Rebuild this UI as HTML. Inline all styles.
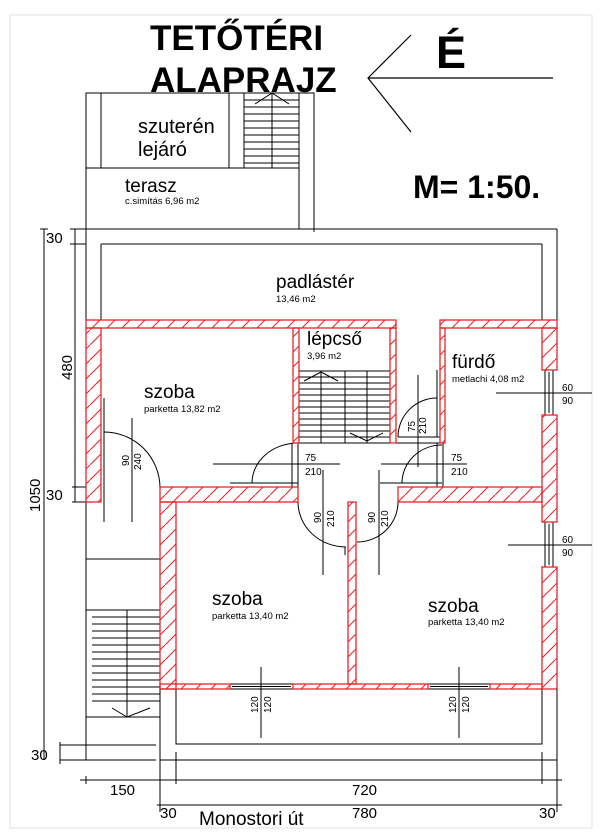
<!DOCTYPE html>
<html><head><meta charset="utf-8"><style>
html,body{margin:0;padding:0;background:#fff;}
svg{display:block;font-family:"Liberation Sans",Arial,sans-serif;}
</style></head><body>
<svg width="600" height="840" viewBox="0 0 600 840" xmlns="http://www.w3.org/2000/svg">
<defs>
<pattern id="h" patternUnits="userSpaceOnUse" width="15" height="15">
<line x1="0" y1="15" x2="15" y2="0" stroke="#e8262a" stroke-width="1.1"/>
</pattern>
</defs>
<rect x="10" y="15" width="582" height="813" fill="none" stroke="#e2e2e2" stroke-width="1"/>

<!-- titles -->
<text x="150" y="50" font-size="35" font-weight="bold">TETŐTÉRI</text>
<text x="150" y="92" font-size="35" font-weight="bold">ALAPRAJZ</text>
<text x="436" y="68" font-size="45" font-weight="bold">É</text>
<polyline points="411,35 368,78 411,132" fill="none" stroke="#000" stroke-width="1.2"/>
<line x1="368" y1="78" x2="553" y2="78" stroke="#000" stroke-width="1.2"/>
<text x="413" y="198" font-size="32" font-weight="bold">M= 1:50.</text>

<g stroke="#000" stroke-width="1" fill="none">
<!-- suteren/terasz -->
<polyline points="86,232 86,93 314,93 314,232"/>
<line x1="101" y1="93" x2="101" y2="168"/>
<line x1="229" y1="93" x2="229" y2="168"/>
<line x1="244" y1="93" x2="244" y2="168"/>
<line x1="299" y1="93" x2="299" y2="229"/>
<line x1="86" y1="168" x2="299" y2="168"/>
<line x1="272" y1="93" x2="272" y2="168"/>
<line x1="244" y1="100" x2="299" y2="100"/><line x1="244" y1="107" x2="299" y2="107"/>
<line x1="244" y1="114" x2="299" y2="114"/><line x1="244" y1="121" x2="299" y2="121"/>
<line x1="244" y1="128" x2="299" y2="128"/><line x1="244" y1="135" x2="299" y2="135"/>
<line x1="244" y1="142" x2="299" y2="142"/><line x1="244" y1="149" x2="299" y2="149"/>
<line x1="244" y1="156" x2="299" y2="156"/><line x1="244" y1="163" x2="299" y2="163"/>
<polyline points="255,104 272,93 289,104"/>
<!-- building outline -->
<line x1="86" y1="229" x2="557" y2="229"/>
<line x1="557" y1="229" x2="557" y2="320"/>
<line x1="101" y1="244" x2="542" y2="244"/>
<line x1="542" y1="244" x2="542" y2="320"/>
<line x1="86" y1="229" x2="86" y2="320"/>
<line x1="101" y1="244" x2="101" y2="320"/>
<!-- left dims -->
<line x1="75" y1="229" x2="75" y2="502"/>
<line x1="44" y1="229" x2="44" y2="760"/>
<line x1="70" y1="229" x2="86" y2="229"/>
<line x1="70" y1="244" x2="86" y2="244"/>
<line x1="40" y1="229" x2="48" y2="229"/>
<line x1="72" y1="487" x2="86" y2="487"/>
<line x1="72" y1="502" x2="86" y2="502"/>
<line x1="60" y1="745" x2="156" y2="745"/>
<line x1="60" y1="760" x2="156" y2="760"/>
<line x1="60" y1="742" x2="60" y2="764"/>
<!-- left lower area -->
<line x1="86" y1="502" x2="86" y2="760"/>
<line x1="160" y1="502" x2="160" y2="812"/>
<line x1="86" y1="559" x2="160" y2="559"/>
<rect x="86" y="610" width="74" height="107"/>
<line x1="127" y1="610" x2="127" y2="717"/>
<g>
<line x1="92" y1="617" x2="160" y2="617"/><line x1="92" y1="624" x2="160" y2="624"/>
<line x1="92" y1="631" x2="160" y2="631"/><line x1="92" y1="638" x2="160" y2="638"/>
<line x1="92" y1="645" x2="160" y2="645"/><line x1="92" y1="652" x2="160" y2="652"/>
<line x1="92" y1="659" x2="160" y2="659"/><line x1="92" y1="666" x2="160" y2="666"/>
<line x1="92" y1="673" x2="160" y2="673"/><line x1="92" y1="680" x2="160" y2="680"/>
<line x1="92" y1="687" x2="160" y2="687"/><line x1="92" y1="694" x2="160" y2="694"/>
<line x1="92" y1="701" x2="160" y2="701"/>
</g>
<polyline points="112,708 127,717 150,708"/>
<!-- balcony -->
<polyline points="176,689 176,744 542,744 542,689"/>
<line x1="557" y1="689" x2="557" y2="812"/>
<!-- bottom dims -->
<line x1="160" y1="760" x2="557" y2="760"/>
<line x1="176" y1="752" x2="176" y2="784"/>
<line x1="542" y1="752" x2="542" y2="784"/>
<line x1="80" y1="780" x2="562" y2="780"/>
<line x1="86" y1="776" x2="86" y2="784"/>
<line x1="157" y1="805" x2="562" y2="805"/>
<!-- stairs lepcso -->
<line x1="299" y1="371" x2="390" y2="371"/>
<line x1="299" y1="377" x2="390" y2="377"/><line x1="299" y1="383" x2="390" y2="383"/>
<line x1="299" y1="389" x2="390" y2="389"/><line x1="299" y1="395" x2="390" y2="395"/>
<line x1="299" y1="401" x2="390" y2="401"/><line x1="299" y1="407" x2="390" y2="407"/>
<line x1="299" y1="413" x2="390" y2="413"/><line x1="299" y1="419" x2="390" y2="419"/>
<line x1="299" y1="425" x2="390" y2="425"/><line x1="299" y1="431" x2="390" y2="431"/>
<line x1="299" y1="437" x2="390" y2="437"/>
<line x1="321" y1="371" x2="321" y2="443"/><line x1="345" y1="371" x2="345" y2="443"/>
<line x1="367" y1="371" x2="367" y2="443"/>
<polyline points="304,381 321,372 338,381"/>
<polyline points="350,433 367,441 383,433"/>
<line x1="293" y1="443" x2="445" y2="443"/>
<!-- hallway frames -->
<line x1="292" y1="443" x2="292" y2="487"/><line x1="298" y1="443" x2="298" y2="487"/>
<line x1="437" y1="443" x2="437" y2="487"/><line x1="443" y1="443" x2="443" y2="487"/>
<!-- doors -->
<path d="M104,432 A56,56 0 0 1 160,488"/>
<line x1="104" y1="398" x2="104" y2="522"/>
<line x1="132" y1="418" x2="132" y2="522"/>
<path d="M298,443 A46,40 0 0 0 252,483"/>
<line x1="230" y1="483" x2="298" y2="483"/>
<line x1="213" y1="464" x2="340" y2="464"/>
<line x1="323" y1="470" x2="323" y2="575"/>
<path d="M442,445 A40,38 0 0 0 402,483"/>
<line x1="381" y1="464" x2="467" y2="464"/>
<line x1="380" y1="483" x2="442" y2="483"/>
<path d="M437,398 A39,39 0 0 0 398,437"/>
<line x1="398" y1="437" x2="440" y2="437"/>
<line x1="418" y1="375" x2="418" y2="467"/>
<line x1="437" y1="370" x2="437" y2="437"/>
<path d="M298,502 A48,45 0 0 0 346,547"/>
<line x1="345" y1="547" x2="345" y2="555"/>
<path d="M398,502 A41,40 0 0 1 357,542"/>
<line x1="379" y1="470" x2="379" y2="575"/>
<line x1="298" y1="487" x2="298" y2="502"/>
<!-- window dims -->
<line x1="496" y1="393" x2="592" y2="393"/>
<line x1="508" y1="545" x2="592" y2="545"/>
<line x1="261" y1="667" x2="261" y2="738"/>
<line x1="459" y1="667" x2="459" y2="738"/>
<!-- windows -->
<rect x="545" y="370" width="8" height="45"/><line x1="549" y1="372" x2="549" y2="413"/>
<rect x="545" y="522" width="8" height="45"/><line x1="549" y1="524" x2="549" y2="565"/>
<rect x="230" y="684" width="63" height="5"/><line x1="232" y1="686.5" x2="291" y2="686.5"/>
<rect x="428" y="684" width="62" height="5"/><line x1="430" y1="686.5" x2="488" y2="686.5"/>
</g>

<!-- red walls -->
<g fill="url(#h)" stroke="#e8262a" stroke-width="1.3">
<rect x="86" y="320" width="310" height="8"/>
<rect x="440" y="320" width="117" height="8"/>
<rect x="86" y="328" width="15" height="174"/>
<rect x="293" y="328" width="6" height="115"/>
<rect x="390" y="328" width="6" height="115"/>
<rect x="440" y="328" width="5" height="115"/>
<rect x="542" y="328" width="15" height="42"/>
<rect x="542" y="415" width="15" height="107"/>
<rect x="542" y="567" width="15" height="122"/>
<rect x="160" y="487" width="138" height="15"/>
<rect x="398" y="487" width="144" height="15"/>
<rect x="160" y="502" width="16" height="187"/>
<rect x="348" y="502" width="8" height="182"/>
<rect x="160" y="684" width="70" height="5"/>
<rect x="293" y="684" width="135" height="5"/>
<rect x="490" y="684" width="52" height="5"/>
</g>

<!-- labels -->
<g fill="#000">
<text x="138" y="133" font-size="20">szuterén</text>
<text x="138" y="156" font-size="20">lejáró</text>
<text x="125" y="192" font-size="19">terasz</text>
<text x="125" y="204" font-size="9.5">c.simítás 6,96 m2</text>
<text x="276" y="288" font-size="19">padlástér</text>
<text x="276" y="302" font-size="9.5">13,46 m2</text>
<text x="307" y="345" font-size="19">lépcső</text>
<text x="307" y="359" font-size="9.5">3,96 m2</text>
<text x="452" y="368" font-size="19">fürdő</text>
<text x="452" y="382" font-size="9.5">metlachi 4,08 m2</text>
<text x="144" y="398" font-size="19">szoba</text>
<text x="144" y="412" font-size="9.5">parketta 13,82 m2</text>
<text x="212" y="605" font-size="19">szoba</text>
<text x="212" y="619" font-size="9.5">parketta 13,40 m2</text>
<text x="428" y="612" font-size="19">szoba</text>
<text x="428" y="625" font-size="9.5">parketta 13,40 m2</text>
<g font-size="10">
<text x="305" y="461">75</text><text x="305" y="475">210</text>
<text x="451" y="461">75</text><text x="451" y="475">210</text>
<text x="562" y="391">60</text><text x="562" y="404">90</text>
<text x="562" y="543">60</text><text x="562" y="556">90</text>
<text transform="translate(129,466) rotate(-90)">90</text>
<text transform="translate(141,470) rotate(-90)">240</text>
<text transform="translate(321,523) rotate(-90)">90</text>
<text transform="translate(334,527) rotate(-90)">210</text>
<text transform="translate(375,523) rotate(-90)">90</text>
<text transform="translate(388,527) rotate(-90)">210</text>
<text transform="translate(415,432) rotate(-90)">75</text>
<text transform="translate(426,434) rotate(-90)">210</text>
<text transform="translate(258,713) rotate(-90)">120</text>
<text transform="translate(271,713) rotate(-90)">120</text>
<text transform="translate(456,713) rotate(-90)">120</text>
<text transform="translate(469,713) rotate(-90)">120</text>
</g>
<text x="46" y="243" font-size="15">30</text>
<text x="46" y="500" font-size="15">30</text>
<text x="31" y="760" font-size="15">30</text>
<text transform="translate(72,380) rotate(-90)" font-size="15">480</text>
<text transform="translate(40,512) rotate(-90)" font-size="15">1050</text>
<text x="110" y="795" font-size="15">150</text>
<text x="352" y="795" font-size="15">720</text>
<text x="160" y="818" font-size="15">30</text>
<text x="352" y="818" font-size="15">780</text>
<text x="539" y="818" font-size="15">30</text>
<text x="199" y="825" font-size="19">Monostori út</text>
</g>
</svg>
</body></html>
